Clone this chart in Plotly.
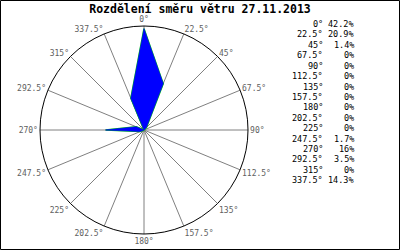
import plotly.graph_objects as go

directions = [0, 22.5, 45, 67.5, 90, 112.5, 135, 157.5, 180, 202.5, 225, 247.5, 270, 292.5, 315, 337.5]
dir_labels = ["0", "22.5", "45", "67.5", "90", "112.5", "135", "157.5", "180", "202.5", "225", "247.5", "270", "292.5", "315", "337.5"]
shares = [42.2, 20.9, 1.4, 0, 0, 0, 0, 0, 0, 0, 0, 1.7, 16, 3.5, 0, 14.3]
share_labels = ["42.2", "20.9", "1.4", "0", "0", "0", "0", "0", "0", "0", "0", "1.7", "16", "3.5", "0", "14.3"]
title_text = "Rozdělení směru větru 27.11.2013"

W, H = 400, 250
mono = "DejaVu Sans Mono"

r_closed = shares + shares[:1]
t_closed = directions + directions[:1]

fig = go.Figure()
fig.add_trace(go.Scatterpolar(r=r_closed, theta=t_closed, mode="lines",
                              line=dict(color="#00d000", width=1.5), hoverinfo="skip"))
fig.add_trace(go.Scatterpolar(r=r_closed, theta=t_closed, mode="lines", fill="toself",
                              fillcolor="#0000ff", line=dict(color="#0000ff", width=0.6),
                              hoverinfo="skip"))

cx, cy, R = 144, 130, 104
fig.update_layout(
    width=W, height=H,
    margin=dict(l=0, r=0, t=0, b=0),
    paper_bgcolor="white", plot_bgcolor="white",
    showlegend=False,
    polar=dict(
        domain=dict(x=[(cx - R) / W, (cx + R) / W], y=[(H - cy - R) / H, (H - cy + R) / H]),
        bgcolor="white",
        radialaxis=dict(visible=False, range=[0, 43.3]),
        angularaxis=dict(
            rotation=90, direction="clockwise",
            tickmode="array", tickvals=directions,
            ticktext=[d + "°" for d in dir_labels],
            showline=True, linecolor="black", linewidth=1,
            showgrid=True, gridcolor="#808080", gridwidth=1,
            ticks="", tickfont=dict(family=mono, size=8, color="#606060"),
        ),
    ),
    title=dict(text="<b>" + title_text + "</b>", x=0.5, xanchor="center", y=1 - 8.5 / H,
               yanchor="middle", font=dict(family=mono, size=11.5, color="black")),
)

row0, dy = 24, 10.42
for i, (d, s) in enumerate(zip(dir_labels, share_labels)):
    y = 1 - (row0 + i * dy) / H
    fig.add_annotation(x=325 / W, y=y, xref="paper", yref="paper", text=d + "°",
                       showarrow=False, xanchor="right", yanchor="middle",
                       font=dict(family=mono, size=8.5, color="black"))
    fig.add_annotation(x=356 / W, y=y, xref="paper", yref="paper", text=s + "%",
                       showarrow=False, xanchor="right", yanchor="middle",
                       font=dict(family=mono, size=8.5, color="black"))

fig.add_shape(type="rect", xref="paper", yref="paper", x0=0.5 / W, y0=0.5 / H,
              x1=1 - 0.5 / W, y1=1 - 0.5 / H, line=dict(color="black", width=1))

fig.write_html("out.html")
